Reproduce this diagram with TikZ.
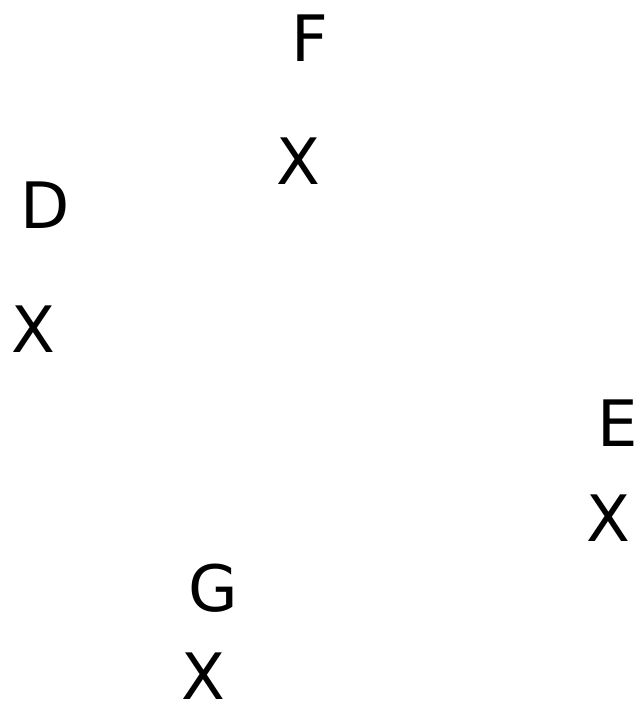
\documentclass[tikz,border=0pt]{standalone}
\usepackage{fontspec}
\setmainfont{DejaVu Sans}
\begin{document}
\begin{tikzpicture}[x=1pt,y=-1pt,
  lbl/.style={inner sep=0pt,font=\fontsize{64}{64}\selectfont}]
\useasboundingbox (0,0) rectangle (640,718);
\node[lbl] (F) at (310,38) {F};
\node[lbl] (XF) at (298,161) {X};
\node[lbl] (D) at (45,205) {D};
\node[lbl] (XD) at (33,329) {X};
\node[lbl] (E) at (618,423) {E};
\node[lbl] (XE) at (608,518) {X};
\node[lbl] (G) at (213,588) {G};
\node[lbl] (XG) at (203,676) {X};
\end{tikzpicture}
\end{document}
